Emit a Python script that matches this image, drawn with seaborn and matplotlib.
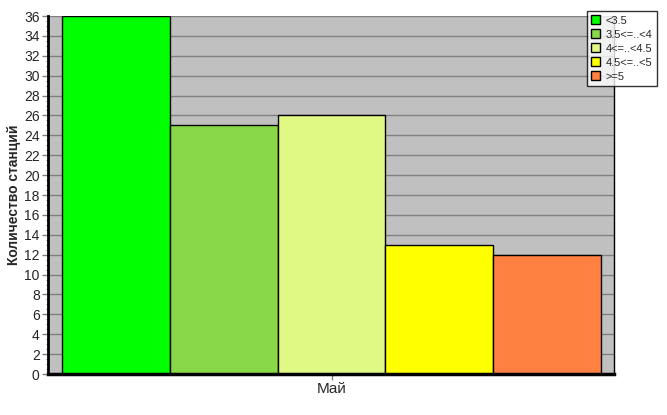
import pandas as pd
import seaborn as sns
import matplotlib.pyplot as plt
from matplotlib.ticker import MultipleLocator

month = "Май"
categories = ["<3.5", "3.5<=..<4", "4<=..<4.5", "4.5<=..<5", ">=5"]
counts = [36, 25, 26, 13, 12]
bar_colors = ["#00FF00", "#88D84A", "#E0F984", "#FFFF00", "#FF8040"]

df = pd.DataFrame({
    "month": [month] * len(categories),
    "category": categories,
    "count": counts,
})

sns.set_style("white")
plt.rcParams['font.family'] = ['Liberation Sans', 'DejaVu Sans']

fig = plt.figure(figsize=(6.67, 4.15), dpi=100)
ax = fig.add_axes([48 / 667, 41 / 415, 566 / 667, 358 / 415])
ax.set_facecolor("#C0C0C0")

sns.barplot(
    data=df, x="month", y="count", hue="category",
    hue_order=categories, palette=bar_colors,
    width=1.0, gap=0, dodge=True,
    edgecolor="black", linewidth=1.0,
    saturation=1, ax=ax,
)

# axes look
ax.set_xlim(-0.526, 0.524)
ax.set_ylim(0, 36)
ax.yaxis.set_major_locator(MultipleLocator(2))
ax.yaxis.set_minor_locator(MultipleLocator(0.5))
ax.grid(axis="y", which="major", color="#808080", linewidth=1.0)
ax.set_axisbelow(True)

ax.spines["top"].set_visible(False)
ax.spines["left"].set_color("black")
ax.spines["left"].set_linewidth(2)
ax.spines["bottom"].set_color("black")
ax.spines["bottom"].set_linewidth(2.5)
ax.spines["right"].set_color("black")
ax.spines["right"].set_linewidth(1.0)

ax.tick_params(axis="y", which="major", length=4, color="#808080",
               width=1, labelsize=10, pad=2, left=True)
ax.tick_params(axis="y", which="minor", length=1.5, color="#909090",
               width=0.8, left=True)
ax.tick_params(axis="x", length=4, color="#808080", width=1,
               labelsize=11, pad=2, bottom=True)

ax.set_xlabel("")
ax.set_ylabel("Количество станций", fontsize=10, fontweight="bold", labelpad=2)

# legend in top right corner of the figure
handles, labels = ax.get_legend_handles_labels()
for h in handles:
    h.set_edgecolor("black")
    h.set_linewidth(1.0)
leg = ax.legend(
    handles, labels,
    loc="upper left",
    bbox_to_anchor=(587 / 667, 1 - 11 / 415),
    bbox_transform=fig.transFigure,
    fontsize=8,
    frameon=True, fancybox=False, shadow=False,
    borderpad=0.4, labelspacing=0.35,
    handlelength=0.8, handleheight=0.8, handletextpad=0.5,
    borderaxespad=0,
)
leg.get_frame().set_edgecolor("black")
leg.get_frame().set_linewidth(1.0)
leg.get_frame().set_facecolor("white")
leg.set_zorder(10)

fig.savefig("out.png", dpi=100)
